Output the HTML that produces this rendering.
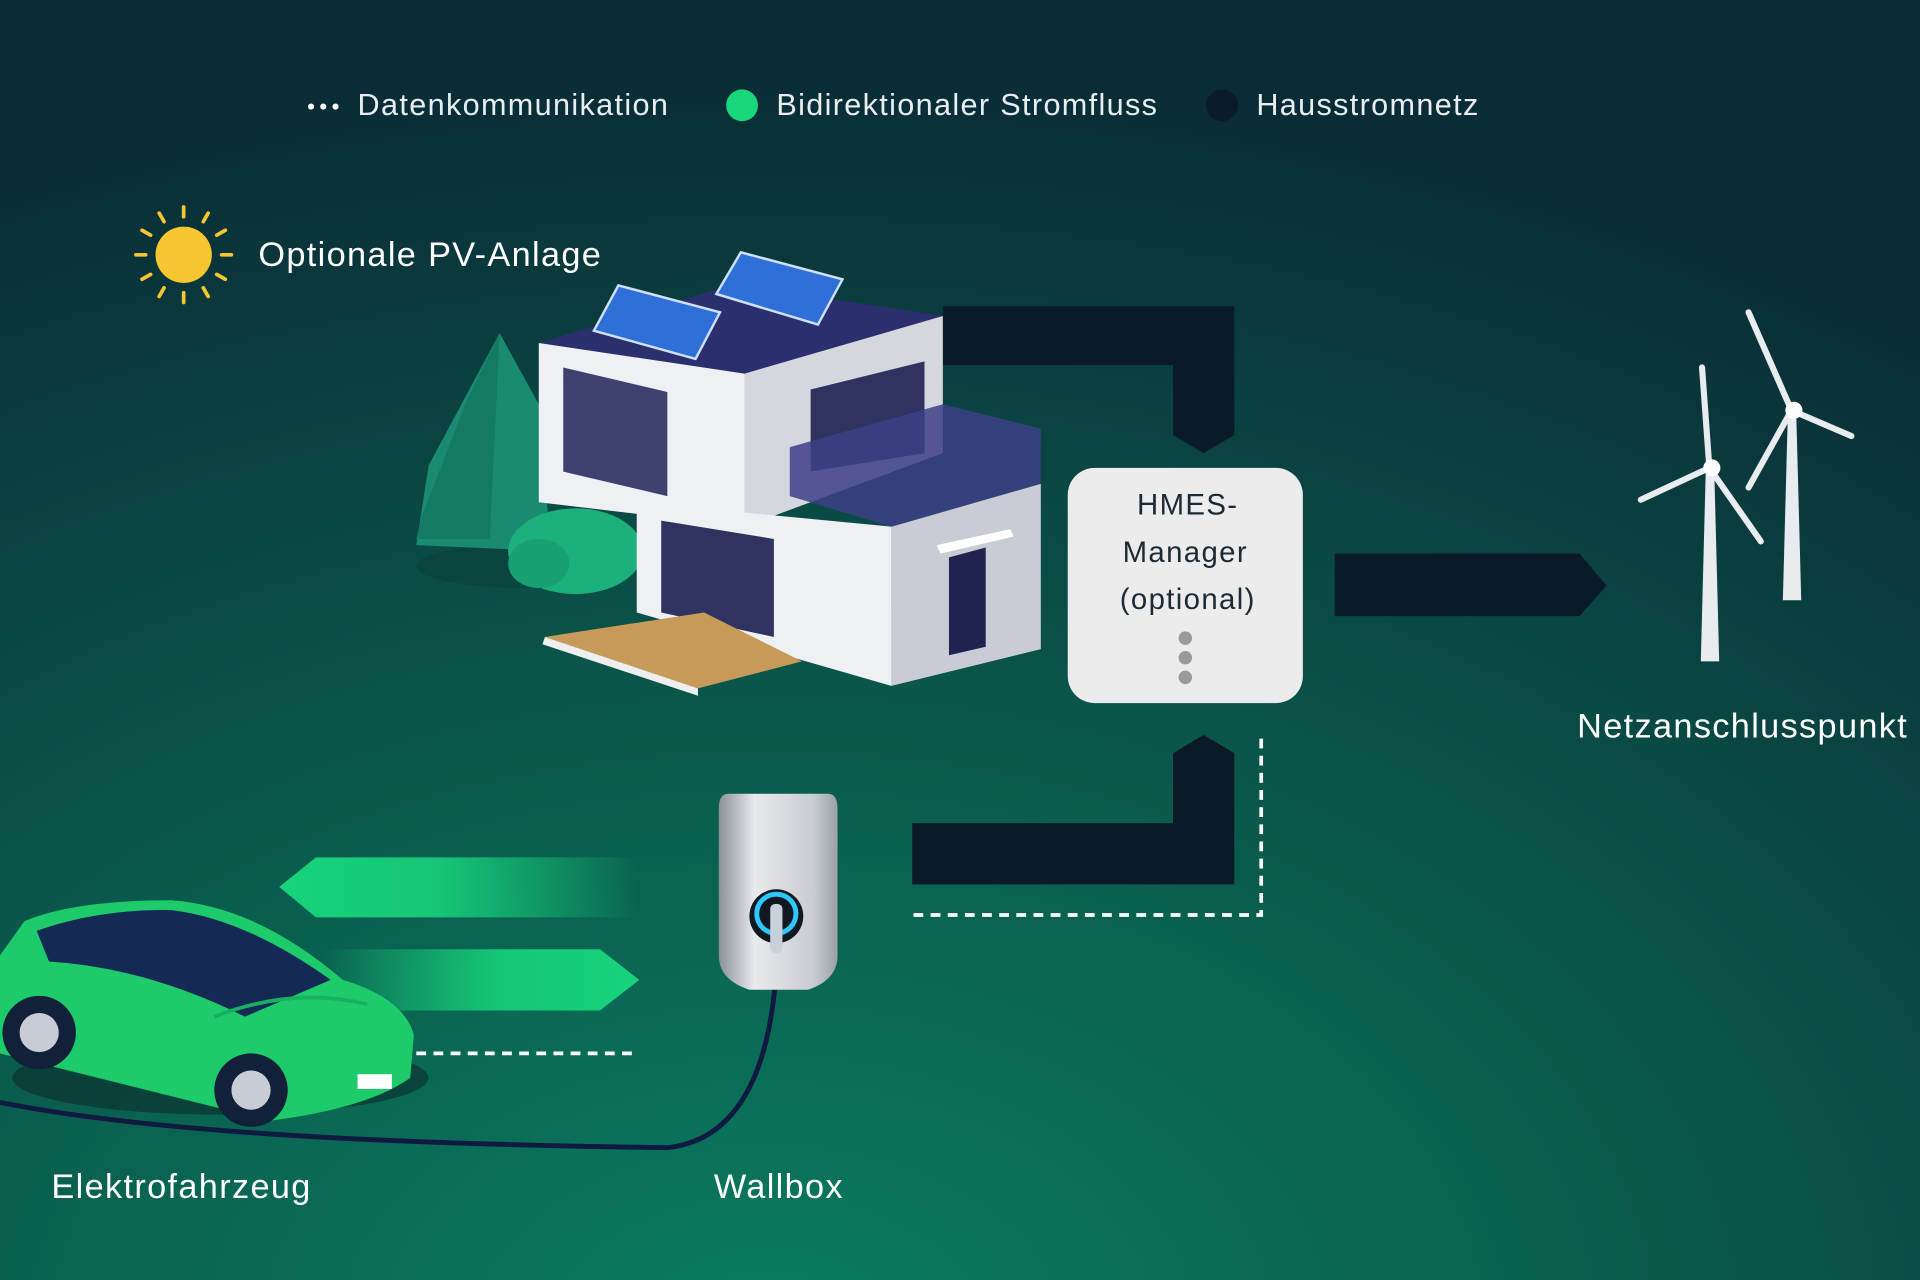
<!DOCTYPE html>
<html><head><meta charset="utf-8"><style>
html,body{margin:0;padding:0;width:1920px;height:1280px;overflow:hidden;background:#0a3038}
svg{display:block}
text{font-family:"Liberation Sans",sans-serif;letter-spacing:1.1px}
</style></head><body>
<svg width="1920" height="1280" viewBox="0 0 1568 1045" preserveAspectRatio="none" xmlns="http://www.w3.org/2000/svg">
<defs>
<radialGradient id="bg" cx="0.4" cy="1.05" r="1.0">
<stop offset="0" stop-color="#0a7d60"/>
<stop offset="0.45" stop-color="#0a5c4d"/>
<stop offset="1" stop-color="#0a2c36"/>
</radialGradient>
<linearGradient id="gl" x1="0" x2="1"><stop offset="0" stop-color="#17d47c"/><stop offset="0.45" stop-color="#15c676"/><stop offset="1" stop-color="#17d47c" stop-opacity="0"/></linearGradient>
<linearGradient id="gr" x1="0" x2="1"><stop offset="0" stop-color="#17d47c" stop-opacity="0"/><stop offset="0.55" stop-color="#15c676"/><stop offset="1" stop-color="#17d47c"/></linearGradient>
<linearGradient id="wb" x1="0" x2="1"><stop offset="0" stop-color="#8a9097"/><stop offset="0.3" stop-color="#e8eaec"/><stop offset="0.8" stop-color="#c8ccd0"/><stop offset="1" stop-color="#9aa0a6"/></linearGradient>
</defs>
<rect width="1568" height="1045" fill="url(#bg)"/>

<g fill="#fff"><circle cx="254" cy="87" r="2.5"/><circle cx="264" cy="87" r="2.5"/><circle cx="274" cy="87" r="2.5"/></g>
<text x="292" y="94" font-size="25" fill="#e8eef0">Datenkommunikation</text>
<circle cx="606" cy="86" r="13" fill="#17d77a"/>
<text x="634" y="94" font-size="25" fill="#e8eef0">Bidirektionaler Stromfluss</text>
<circle cx="998" cy="86" r="13" fill="#0a1c28"/>
<text x="1026" y="94" font-size="25" fill="#e8eef0">Hausstromnetz</text>

<circle cx="150" cy="208" r="23" fill="#f8c630"/>
<g stroke="#f8c630" stroke-width="3" stroke-linecap="round">
<line x1="150" y1="169" x2="150" y2="177"/><line x1="150" y1="239" x2="150" y2="247"/>
<line x1="111" y1="208" x2="119" y2="208"/><line x1="181" y1="208" x2="189" y2="208"/>
<line x1="130" y1="174" x2="134" y2="181"/><line x1="166" y1="235" x2="170" y2="242"/>
<line x1="116" y1="188" x2="123" y2="192"/><line x1="177" y1="224" x2="184" y2="228"/>
<line x1="170" y1="174" x2="166" y2="181"/><line x1="134" y1="235" x2="130" y2="242"/>
<line x1="184" y1="188" x2="177" y2="192"/><line x1="123" y1="224" x2="116" y2="228"/>
</g>
<text x="211" y="217" font-size="28" fill="#fff">Optionale PV-Anlage</text>

<g fill="#0a1a26">
<polygon points="770,250 1008,250 1008,355 983,370 958,355 958,298 770,298"/>
<polygon points="745,672 958,672 958,615 983,600 1008,615 1008,722 745,722"/>
<polygon points="1090,452 1290,452 1312,478 1290,503 1090,503"/>
</g>

<ellipse cx="430" cy="462" rx="90" ry="18" fill="#0a3f3a" opacity="0.6"/>
<polygon points="408,272 440,330 450,450 340,445 350,380" fill="#1a8a70"/>
<polygon points="408,272 380,330 345,420 340,440 400,440" fill="#137a63"/>
<ellipse cx="470" cy="450" rx="55" ry="35" fill="#1bb07c"/>
<ellipse cx="440" cy="460" rx="25" ry="20" fill="#18a072"/>

<polygon points="440,280 600,232 770,258 608,305" fill="#2b2f6e"/>
<polygon points="440,280 608,305 608,430 440,410" fill="#eef0f4"/>
<polygon points="608,305 770,258 770,370 608,430" fill="#d4d7de"/>
<polygon points="460,300 545,320 545,405 460,385" fill="#3c4170"/>
<polygon points="662,318 755,295 755,370 662,385" fill="#2e3360"/>
<polygon points="645,365 770,330 850,350 850,395 728,430 645,405" fill="#3c3f86" opacity="0.85"/>
<polygon points="520,410 728,430 728,560 520,500" fill="#eef0f4"/>
<polygon points="728,430 850,395 850,530 728,560" fill="#c9ccd4"/>
<polygon points="540,425 632,440 632,520 540,500" fill="#2e3360"/>
<polygon points="775,455 805,447 805,528 775,535" fill="#1e2350"/>
<polygon points="765,445 825,432 828,438 768,452" fill="#fff"/>
<polygon points="445,520 575,500 655,540 570,562" fill="#c79a5a"/>
<polygon points="445,520 570,562 570,568 443,526" fill="#eee"/>
<polygon points="485,270 505,233 588,255 568,293" fill="#2f6fd8" stroke="#cfe0ff" stroke-width="2"/>
<polygon points="585,240 605,206 688,228 668,265" fill="#2f6fd8" stroke="#cfe0ff" stroke-width="2"/>

<rect x="872" y="382" width="192" height="192" rx="22" fill="#ececec"/>
<g font-size="24" fill="#1c2b33" text-anchor="middle">
<text x="970" y="420">HMES-</text><text x="968" y="459">Manager</text><text x="970" y="497">(optional)</text></g>
<g fill="#9a9a9a"><circle cx="968" cy="521" r="5.5"/><circle cx="968" cy="537" r="5.5"/><circle cx="968" cy="553" r="5.5"/></g>

<g stroke="#fff" stroke-width="3" fill="none" stroke-dasharray="8,6">
<polyline points="1030,603 1030,747 743,747"/>
<line x1="340" y1="860" x2="522" y2="860"/>
</g>

<g fill="#e9ecef">
<polygon points="1393,385 1400,385 1404,540 1389,540"/>
<polygon points="1460,340 1467,340 1471,490 1456,490"/>
</g>
<g stroke="#e9ecef" stroke-width="5" stroke-linecap="round">
<line x1="1396" y1="382" x2="1390" y2="300"/><line x1="1396" y1="382" x2="1340" y2="408"/><line x1="1396" y1="382" x2="1438" y2="442"/>
<line x1="1463" y1="335" x2="1428" y2="255"/><line x1="1463" y1="335" x2="1512" y2="356"/><line x1="1463" y1="335" x2="1428" y2="398"/>
</g>
<circle cx="1398" cy="382" r="7" fill="#fff"/><circle cx="1465" cy="335" r="7" fill="#fff"/>
<text x="1288" y="602" font-size="28" fill="#fff">Netzanschlusspunkt</text>

<polygon points="228,724 258,700 520,700 520,749 258,749" fill="url(#gl)"/>
<polygon points="265,775 490,775 522,800 490,825 265,825" fill="url(#gr)"/>

<path d="M634,790 C630,860 610,930 545,937 C400,935 150,930 0,900" stroke="#101a40" stroke-width="4" fill="none"/>

<path d="M595,648 L676,648 Q684,648 684,660 L684,780 Q684,800 660,808 L612,808 Q587,800 587,780 L587,660 Q587,648 595,648Z" fill="url(#wb)"/>
<circle cx="634" cy="748" r="22" fill="#101820"/>
<circle cx="634" cy="746" r="16" fill="none" stroke="#2ec7ff" stroke-width="4"/>
<rect x="629" y="738" width="10" height="40" rx="4" fill="#c8d0d8"/>

<ellipse cx="180" cy="880" rx="170" ry="30" fill="#0a3330" opacity="0.7"/>
<path d="M0,780 L20,752 Q60,735 140,735 Q210,740 280,800 Q330,815 338,845 L335,880 Q300,905 220,915 L40,870 L0,860Z" fill="#1ecb6b"/>
<path d="M30,760 Q80,742 140,743 Q200,750 270,800 L200,830 Q120,790 40,785Z" fill="#142a55"/>
<path d="M175,830 Q240,805 300,820" stroke="#17b060" stroke-width="3" fill="none"/>
<circle cx="32" cy="843" r="30" fill="#13203a"/><circle cx="32" cy="843" r="16" fill="#c8cdd5"/>
<circle cx="205" cy="890" r="30" fill="#13203a"/><circle cx="205" cy="890" r="16" fill="#c8cdd5"/>
<rect x="292" y="877" width="28" height="12" fill="#fff"/>
<text x="42" y="978" font-size="28" fill="#fff">Elektrofahrzeug</text>
<text x="583" y="978" font-size="28" fill="#fff">Wallbox</text>
</svg>
</body></html>
